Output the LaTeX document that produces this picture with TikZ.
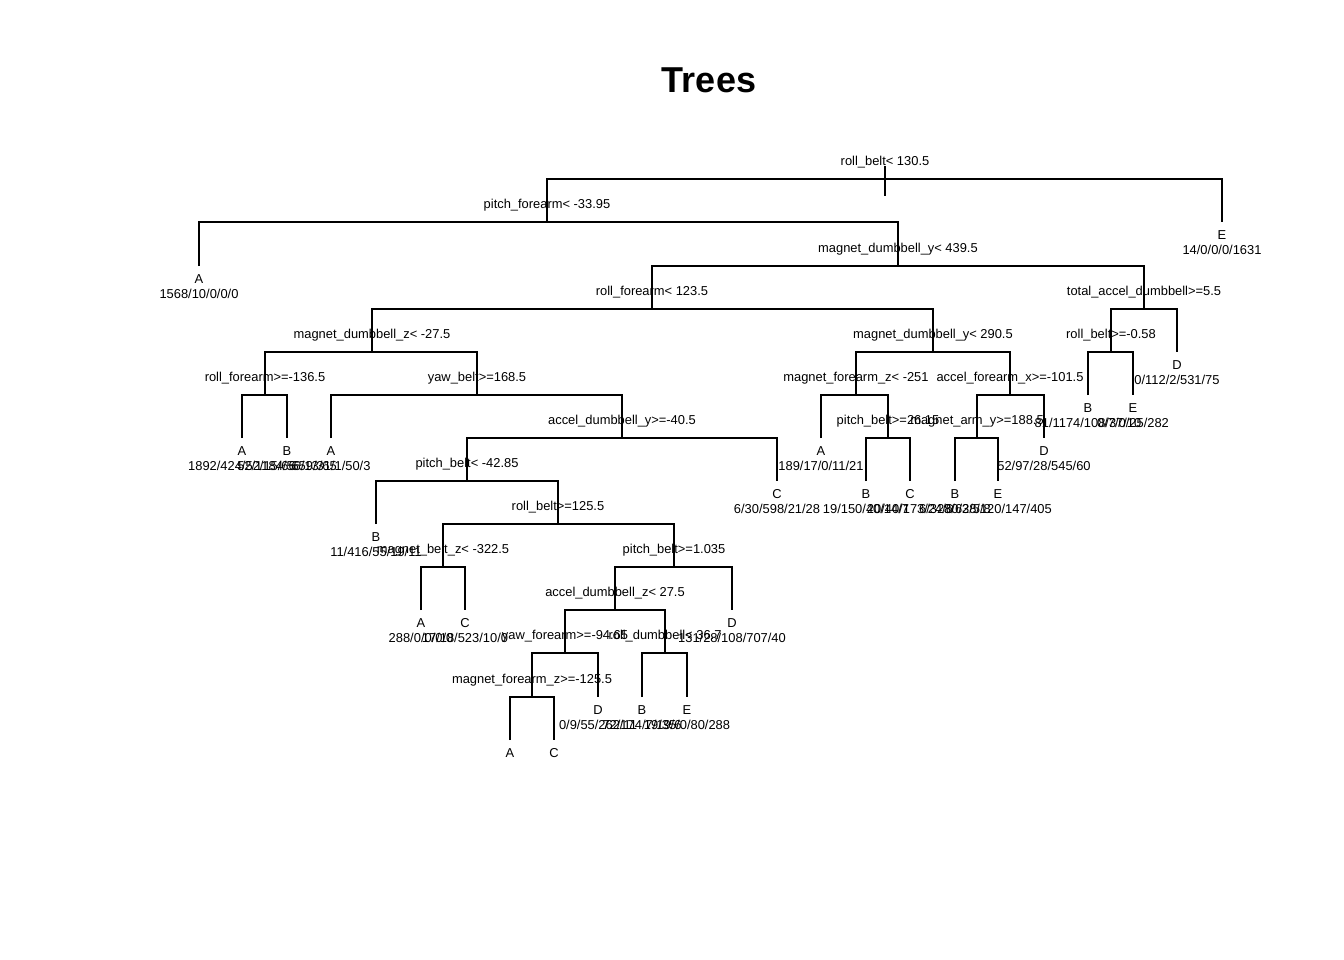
\documentclass[tikz,border=0pt]{standalone}
\usepackage{fontspec}
\setmainfont{Liberation Sans}
\usepackage{tikz}

\begin{document}
\begin{tikzpicture}[x=1pt, y=-1pt, line width=2pt,
    split/.style={inner sep=0pt, text height=9.5pt, text depth=2.5pt, font=\fontsize{12.9}{15}\selectfont, yshift=17pt},
    cls/.style={inner sep=0pt, text height=9.5pt, text depth=2.5pt, font=\fontsize{12.9}{15}\selectfont, yshift=-14pt},
    cnt/.style={inner sep=0pt, text height=9.5pt, text depth=2.5pt, font=\fontsize{12.9}{15}\selectfont, yshift=-29pt}]
    \useasboundingbox (0,0) rectangle (1344,960);
    \node[font=\fontsize{36}{40}\bfseries] (title) at (709,80) {Trees};
    % split points
    \coordinate (root) at (885,179);
    \coordinate (rootT) at (885,166);
    \coordinate (rootB) at (885,196);
    \coordinate (pf) at (547,222);
    \coordinate (mdy1) at (898,266);
    \coordinate (rf1) at (652,309);
    \coordinate (tad) at (1144,309);
    \coordinate (mdz) at (372,352);
    \coordinate (mdy2) at (933,352);
    \coordinate (rb2) at (1111,352);
    \coordinate (rf2) at (265,395);
    \coordinate (yb) at (477,395);
    \coordinate (mfz1) at (856,395);
    \coordinate (afx) at (1010,395);
    \coordinate (ady) at (622,438);
    \coordinate (pb2) at (888,438);
    \coordinate (may) at (977,438);
    \coordinate (pb1) at (467,481);
    \coordinate (rb1) at (558,524);
    \coordinate (mbz) at (443,567);
    \coordinate (pb3) at (674,567);
    \coordinate (adz) at (615,610);
    \coordinate (yf) at (565,653);
    \coordinate (rd) at (665,653);
    \coordinate (mfz2) at (532,697);
    % leaves
    \coordinate (eR) at (1222,222);
    \coordinate (aL) at (199,266);
    \coordinate (dR) at (1177,352);
    \coordinate (bR) at (1088,395);
    \coordinate (eR2) at (1133,395);
    \coordinate (a1) at (242,438);
    \coordinate (b1) at (287,438);
    \coordinate (a2) at (331,438);
    \coordinate (a3) at (821,438);
    \coordinate (d1) at (1044,438);
    \coordinate (c1) at (777,481);
    \coordinate (b2) at (866,481);
    \coordinate (c2) at (910,481);
    \coordinate (b3) at (955,481);
    \coordinate (e1) at (998,481);
    \coordinate (b4) at (376,524);
    \coordinate (a4) at (421,610);
    \coordinate (c3) at (465,610);
    \coordinate (d2) at (732,610);
    \coordinate (d3) at (598,697);
    \coordinate (b5) at (642,697);
    \coordinate (e2) at (687,697);
    \coordinate (a5) at (510,740);
    \coordinate (c4) at (554,740);
    % branches
    \draw (rootT) -- (rootB);
    \draw (pf) |- (root) -| (eR);
    \draw (aL) |- (pf) -| (mdy1);
    \draw (rf1) |- (mdy1) -| (tad);
    \draw (mdz) |- (rf1) -| (mdy2);
    \draw (rb2) |- (tad) -| (dR);
    \draw (bR) |- (rb2) -| (eR2);
    \draw (rf2) |- (mdz) -| (yb);
    \draw (a1) |- (rf2) -| (b1);
    \draw (a2) |- (yb) -| (ady);
    \draw (pb1) |- (ady) -| (c1);
    \draw (b4) |- (pb1) -| (rb1);
    \draw (mbz) |- (rb1) -| (pb3);
    \draw (a4) |- (mbz) -| (c3);
    \draw (adz) |- (pb3) -| (d2);
    \draw (yf) |- (adz) -| (rd);
    \draw (mfz2) |- (yf) -| (d3);
    \draw (a5) |- (mfz2) -| (c4);
    \draw (b5) |- (rd) -| (e2);
    \draw (mfz1) |- (mdy2) -| (afx);
    \draw (a3) |- (mfz1) -| (pb2);
    \draw (b2) |- (pb2) -| (c2);
    \draw (may) |- (afx) -| (d1);
    \draw (b3) |- (may) -| (e1);
    % split labels
    \node[split] (lroot) at (root) {roll\_belt< 130.5};
    \node[split] (lpf) at (pf) {pitch\_forearm< -33.95};
    \node[split] (lmdy1) at (mdy1) {magnet\_dumbbell\_y< 439.5};
    \node[split] (lrf1) at (rf1) {roll\_forearm< 123.5};
    \node[split] (ltad) at (tad) {total\_accel\_dumbbell>=5.5};
    \node[split] (lmdz) at (mdz) {magnet\_dumbbell\_z< -27.5};
    \node[split] (lmdy2) at (mdy2) {magnet\_dumbbell\_y< 290.5};
    \node[split] (lrb2) at (rb2) {roll\_belt>=-0.58};
    \node[split] (lrf2) at (rf2) {roll\_forearm>=-136.5};
    \node[split] (lyb) at (yb) {yaw\_belt>=168.5};
    \node[split] (lmfz1) at (mfz1) {magnet\_forearm\_z< -251};
    \node[split] (lafx) at (afx) {accel\_forearm\_x>=-101.5};
    \node[split] (lady) at (ady) {accel\_dumbbell\_y>=-40.5};
    \node[split] (lpb2) at (pb2) {pitch\_belt>=26.15};
    \node[split] (lmay) at (may) {magnet\_arm\_y>=188.5};
    \node[split] (lpb1) at (pb1) {pitch\_belt< -42.85};
    \node[split] (lrb1) at (rb1) {roll\_belt>=125.5};
    \node[split] (lmbz) at (mbz) {magnet\_belt\_z< -322.5};
    \node[split] (lpb3) at (pb3) {pitch\_belt>=1.035};
    \node[split] (ladz) at (adz) {accel\_dumbbell\_z< 27.5};
    \node[split] (lyf) at (yf) {yaw\_forearm>=-94.65};
    \node[split] (lrd) at (rd) {roll\_dumbbell< 36.7};
    \node[split] (lmfz2) at (mfz2) {magnet\_forearm\_z>=-125.5};
    % leaf labels
    \node[cls] (ceR) at (eR) {E};
    \node[cnt] (neR) at (eR) {14/0/0/0/1631};
    \node[cls] (caL) at (aL) {A};
    \node[cnt] (naL) at (aL) {1568/10/0/0/0};
    \node[cls] (cdR) at (dR) {D};
    \node[cnt] (ndR) at (dR) {0/112/2/531/75};
    \node[cls] (cbR) at (bR) {B};
    \node[cnt] (nbR) at (bR) {81/1174/108/37/10};
    \node[cls] (ceR2) at (eR2) {E};
    \node[cnt] (neR2) at (eR2) {0/7/0/25/282};
    \node[cls] (ca1) at (a1) {A};
    \node[cnt] (na1) at (a1) {1892/424/52/15/66};
    \node[cls] (cb1) at (b1) {B};
    \node[cnt] (nb1) at (b1) {52/1184/56/13/65};
    \node[cls] (ca2) at (a2) {A};
    \node[cnt] (na2) at (a2) {659/31/1/50/3};
    \node[cls] (ca3) at (a3) {A};
    \node[cnt] (na3) at (a3) {189/17/0/11/21};
    \node[cls] (cd1) at (d1) {D};
    \node[cnt] (nd1) at (d1) {52/97/28/545/60};
    \node[cls] (cc1) at (c1) {C};
    \node[cnt] (nc1) at (c1) {6/30/598/21/28};
    \node[cls] (cb2) at (b2) {B};
    \node[cnt] (nb2) at (b2) {19/150/40/14/7};
    \node[cls] (cc2) at (c2) {C};
    \node[cnt] (nc2) at (c2) {20/40/173/24/6};
    \node[cls] (cb3) at (b3) {B};
    \node[cnt] (nb3) at (b3) {6/328/63/5/8};
    \node[cls] (ce1) at (e1) {E};
    \node[cnt] (ne1) at (e1) {30/28/120/147/405};
    \node[cls] (cb4) at (b4) {B};
    \node[cnt] (nb4) at (b4) {11/416/55/19/11};
    \node[cls] (ca4) at (a4) {A};
    \node[cnt] (na4) at (a4) {288/0/0/0/0};
    \node[cls] (cc3) at (c3) {C};
    \node[cnt] (nc3) at (c3) {17/18/523/10/0};
    \node[cls] (cd2) at (d2) {D};
    \node[cnt] (nd2) at (d2) {131/28/108/707/40};
    \node[cls] (cd3) at (d3) {D};
    \node[cnt] (nd3) at (d3) {0/9/55/262/11};
    \node[cls] (cb5) at (b5) {B};
    \node[cnt] (nb5) at (b5) {72/174/7/19/6};
    \node[cls] (ce2) at (e2) {E};
    \node[cnt] (ne2) at (e2) {19/35/0/80/288};
    \node[cls] (ca5) at (a5) {A};
    \node[cls] (cc4) at (c4) {C};
\end{tikzpicture}
\end{document}
